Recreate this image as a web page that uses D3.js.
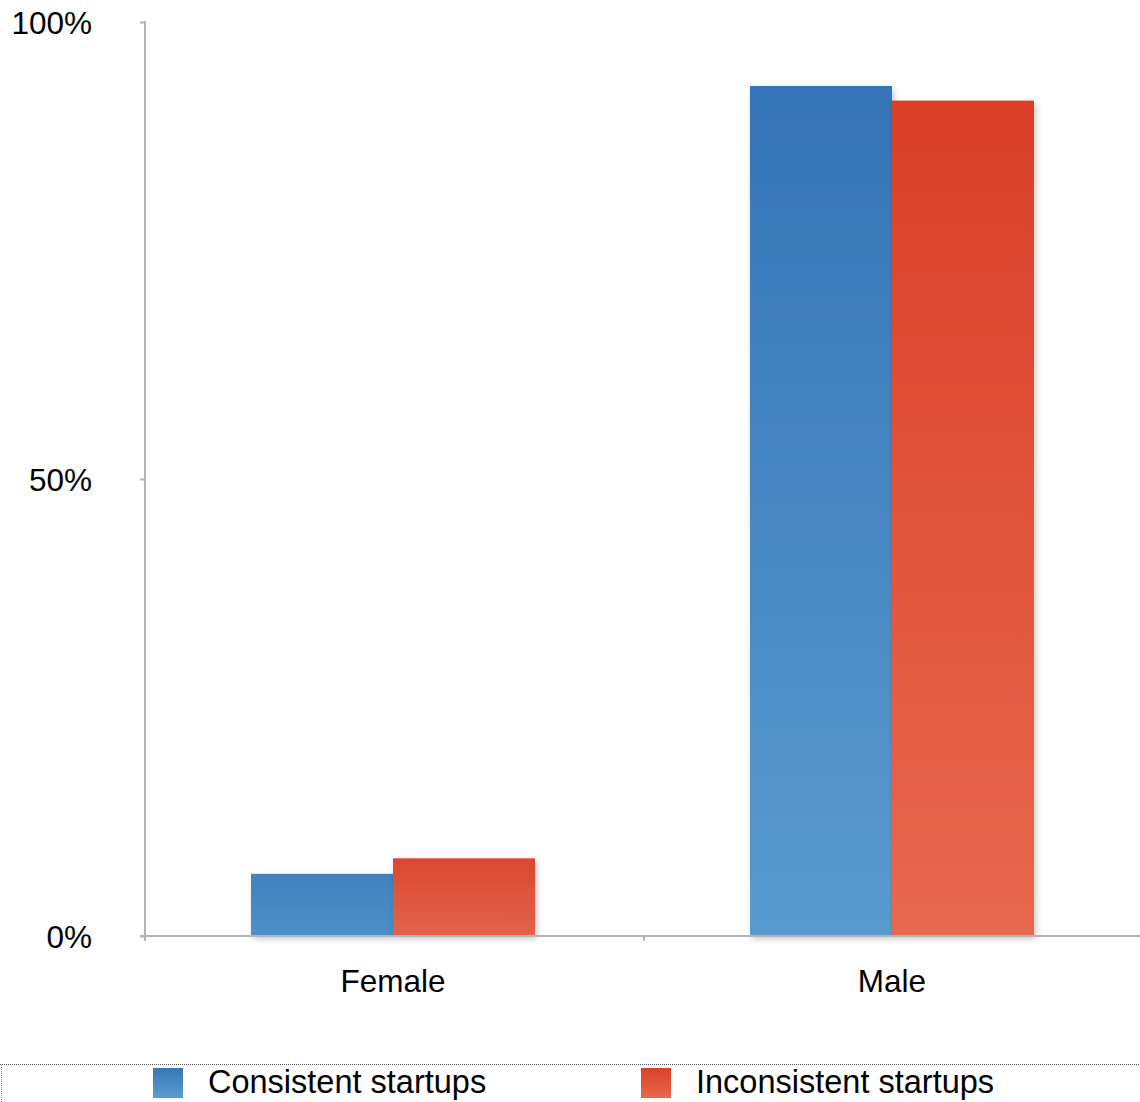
<!DOCTYPE html>
<html><head><meta charset="utf-8">
<script src="https://cdn.jsdelivr.net/npm/d3@7"></script>
<style>
html,body{margin:0;padding:0;background:#fff;}
svg{display:block;font-family:"Liberation Sans",Arial,sans-serif;}
</style></head>
<body>
<svg id="chart" width="1140" height="1102"></svg>
<script>
const categories = ["Female", "Male"];
const seriesNames = ["Consistent startups", "Inconsistent startups"];
const consistentValues = [6.8, 93.0];
const inconsistentValues = [8.5, 91.4];
const yTickValues = [0, 50, 100];
const yTickLabels = ["0%", "50%", "100%"];

const seriesValues = [consistentValues, inconsistentValues];
const svg = d3.select("#chart");
const W = 1140;
const axisX = 145, yTop = 22, yBottom = 936;
const FS = "31.5px";

const defs = svg.append("defs");
const gradDefs = [
  [{id: "gB0", top: "#4181bf", bottom: "#4d8fc8"}, {id: "gB1", top: "#3574b7", bottom: "#5a9bcf"}],
  [{id: "gR0", top: "#dc4832", bottom: "#e3624c"}, {id: "gR1", top: "#da3f28", bottom: "#e8684f"}]
];
const legendGrads = [{id: "lB", top: "#3877b9", bottom: "#5a9bce"}, {id: "lR", top: "#d9412b", bottom: "#e8674f"}];
[...gradDefs.flat(), ...legendGrads].forEach(g => {
  const lg = defs.append("linearGradient").attr("id", g.id)
    .attr("x1", 0).attr("y1", 0).attr("x2", 0).attr("y2", 1);
  lg.append("stop").attr("offset", "0%").attr("stop-color", g.top);
  lg.append("stop").attr("offset", "100%").attr("stop-color", g.bottom);
});
const f = defs.append("filter").attr("id", "shadow")
  .attr("x", "-10%").attr("y", "-10%").attr("width", "130%").attr("height", "130%");
f.append("feDropShadow").attr("dx", 2).attr("dy", 3).attr("stdDeviation", 3)
  .attr("flood-color", "#000").attr("flood-opacity", 0.22);

const y = d3.scaleLinear().domain([0, 100]).range([yBottom, yTop]);
const x0 = d3.scaleBand().domain(categories).range([axisX - 1.5, axisX + 996.5]).padding(0);
const x1 = d3.scaleBand().domain(seriesNames).range([0, x0.bandwidth()])
  .paddingInner(0).paddingOuter(0.757);

const gBars = svg.append("g");
categories.forEach((c, ci) => {
  seriesNames.forEach((s, si) => {
    const v = seriesValues[si][ci];
    gBars.append("rect")
      .attr("x", x0(c) + x1(s))
      .attr("y", y(v))
      .attr("width", x1.bandwidth())
      .attr("height", y(0) - y(v))
      .attr("fill", `url(#${gradDefs[si][ci].id})`)
      .attr("filter", "url(#shadow)");
  });
});

const axisColor = "#b4b4b4";
const gy = svg.append("g").attr("transform", `translate(${axisX},0)`)
  .call(d3.axisLeft(y).tickValues(yTickValues).tickSize(5).tickFormat((d, i) => yTickLabels[i]));
gy.select(".domain").remove();
gy.selectAll(".tick line").attr("stroke", axisColor).attr("stroke-width", 2);
gy.selectAll(".tick text").attr("x", -53).attr("fill", "#000")
  .style("font-size", FS).attr("dy", "0.35em");
svg.append("line").attr("x1", axisX).attr("x2", axisX).attr("y1", yTop - 1).attr("y2", yBottom + 1)
  .attr("stroke", axisColor).attr("stroke-width", 2);

svg.append("line").attr("x1", axisX - 5).attr("x2", W).attr("y1", yBottom).attr("y2", yBottom)
  .attr("stroke", axisColor).attr("stroke-width", 2);
const boundaries = [axisX, x0("Male") + 1.5];
svg.selectAll(".xb").data(boundaries).enter().append("line")
  .attr("x1", d => d).attr("x2", d => d).attr("y1", yBottom).attr("y2", yBottom + 5)
  .attr("stroke", axisColor).attr("stroke-width", 2);
svg.selectAll(".xl").data(categories).enter().append("text")
  .attr("x", d => x0(d) + x0.bandwidth() / 2)
  .attr("y", 992).attr("text-anchor", "middle")
  .style("font-size", FS).attr("fill", "#000").text(d => d);

svg.append("line").attr("x1", 0).attr("x2", W).attr("y1", 1064.5).attr("y2", 1064.5)
  .attr("stroke", "#555").attr("stroke-width", 1).attr("stroke-dasharray", "1,1");
svg.append("line").attr("x1", 1.5).attr("x2", 1.5).attr("y1", 1065).attr("y2", 1102)
  .attr("stroke", "#888").attr("stroke-width", 1).attr("stroke-dasharray", "1,1");
const legendX = [153, 641];
const lg = svg.selectAll(".lg").data(seriesNames).enter().append("g")
  .attr("transform", (d, i) => `translate(${legendX[i]},1068)`);
lg.append("rect").attr("width", 30).attr("height", 30)
  .attr("fill", (d, i) => `url(#${legendGrads[i].id})`);
lg.append("text").attr("x", 55).attr("y", 25).style("font-size", "32.5px")
  .attr("fill", "#000").text(d => d);
</script>
</body></html>
